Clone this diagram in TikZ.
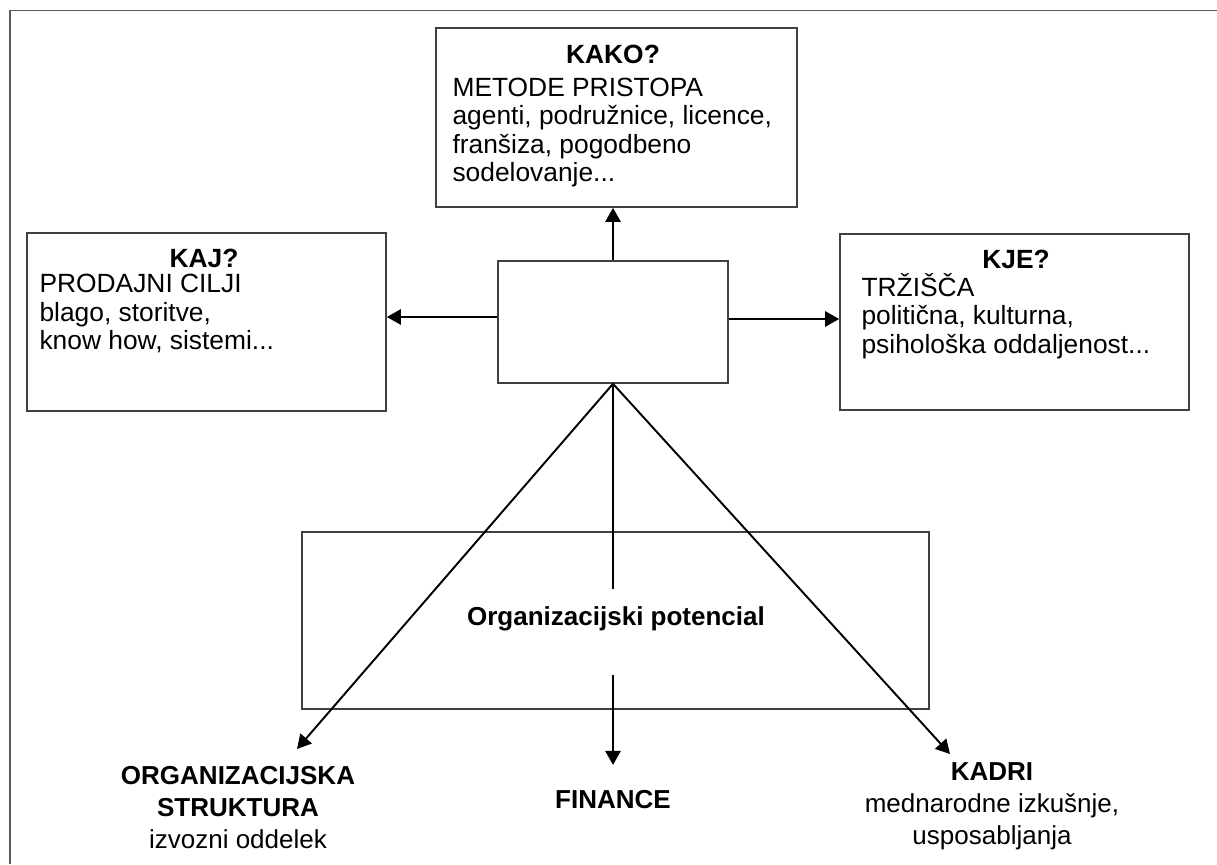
\documentclass[tikz,border=0pt]{standalone}
\usepackage{fontspec}
\setmainfont{Liberation Sans}
\usetikzlibrary{arrows.meta, calc, positioning}

\begin{document}
\begin{tikzpicture}[% styles used in image code
          > = {Triangle[length=2.8mm, width=3mm]},
  frame/.style = {draw=black!65, line width=1.1pt},
    box/.style = {draw=black!75, line width=0.9pt, inner sep=0pt},
   link/.style = {->, line width=1.4pt},
  slant/.style = {->, line width=1.1pt},
heading/.style = {font=\fontsize{15}{16.2}\selectfont\bfseries,
                  inner sep=0pt, anchor=base},
   body/.style = {font=\fontsize{15}{16.2}\selectfont, align=left,
                  inner sep=0pt, anchor=base west}, % base = last line
 bottom/.style = {font=\fontsize{14.8}{18.2}\selectfont, align=center,
                  inner sep=0pt, anchor=base}
                       ]
	\useasboundingbox (0,0) rectangle (24.34,17.28);
	% outer frame, only top and left edge
	\draw[frame] (24.34,17.07) -- (0.2,17.07) -- (0.2,0);

	% boxes
	\node[box, minimum width=4.6cm,   minimum height=2.44cm] (c)    at (12.26,10.84) {};
	\node[box, minimum width=7.22cm,  minimum height=3.58cm] (kako) at (12.33,14.93) {};
	\node[box, minimum width=7.18cm,  minimum height=3.56cm] (kaj)  at (4.13,10.84)  {};
	\node[box, minimum width=6.98cm,  minimum height=3.52cm] (kje)  at (20.29,10.84) {};
	\node[box, minimum width=12.54cm, minimum height=3.54cm] (org)  at (12.31,4.87)  {};

	% box texts
	\node[heading] (kako head) at ($(kako.north)+(-0.07,-0.72)$) {KAKO?};
	\node[body]    (kako text) at ($(kako.north west)+(0.34,-3.09)$)
	      {METODE PRISTOPA\\ agenti, podružnice, licence,\\ franšiza, pogodbeno\\ sodelovanje...};
	\node[heading] (kaj head)  at ($(kaj.north)+(-0.05,-0.71)$) {KAJ?};
	\node[body]    (kaj text)  at ($(kaj.north west)+(0.26,-2.35)$)
	      {PRODAJNI CILJI\\ blago, storitve,\\ know how, sistemi...};
	\node[heading] (kje head)  at ($(kje.north)+(0.03,-0.70)$) {KJE?};
	\node[body]    (kje text)  at ($(kje.north west)+(0.44,-2.40)$)
	      {TRŽIŠČA\\ politična, kulturna,\\ psihološka oddaljenost...};

	% labels below
	\node[bottom] (strukt) at (4.76,0.31)
	      {\textbf{ORGANIZACIJSKA}\\ \textbf{STRUKTURA}\\ izvozni oddelek};
	\node[bottom] (fin)    at (12.26,1.12) {\textbf{FINANCE}};
	\node[bottom] (kadri)  at (19.84,0.40)
	      {\textbf{KADRI}\\ mednarodne izkušnje,\\ usposabljanja};

	\coordinate (strukt tip) at (5.94,2.30);
	\coordinate (kadri tip)  at (19.0,2.20);
	\coordinate (cw) at ([yshift=1mm]c.west);
	\coordinate (ce) at ([yshift=0.6mm]c.east);

	% arrows
	\draw[link] (c.north) -- (c.north |- kako.south);
	\draw[link] (cw) -- (cw -| kaj.east);
	\draw[link] (ce) -- (ce -| kje.west);
	\draw[slant] (c.south) -- (strukt tip);
	\draw[slant] (c.south) -- (kadri tip);
	\draw[link, shorten >=4.9mm] (c.south) -- (fin.north);

	\node[font=\fontsize{14.8}{18}\selectfont\bfseries, fill=white,
	      inner xsep=1mm, inner ysep=0pt, text height=7.2mm, text depth=10mm,
	      anchor=base] (pot) at (12.32,4.78) {Organizacijski potencial};
\end{tikzpicture}
\end{document}
